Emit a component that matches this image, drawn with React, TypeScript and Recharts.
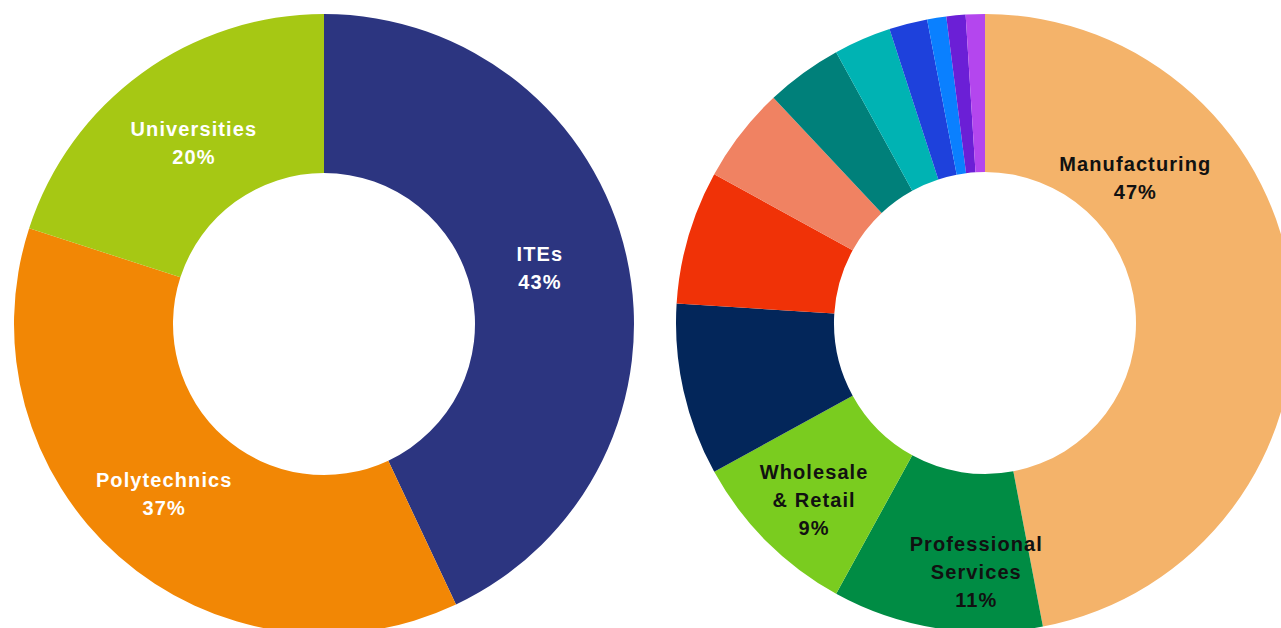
import React from 'react'
import { PieChart, Pie, Cell } from 'recharts'

// left donut: where workers were educated
const educationNames = ['ITEs', 'Polytechnics', 'Universities']
const educationShares = [43, 37, 20]
const educationColors = ['#2C3580', '#F28705', '#A6C814']

// right donut: industry split (only the three largest are labelled)
const industryNames = [
  'Manufacturing',
  'Professional Services',
  'Wholesale & Retail',
  'Segment 4',
  'Segment 5',
  'Segment 6',
  'Segment 7',
  'Segment 8',
  'Segment 9',
  'Segment 10',
  'Segment 11',
  'Segment 12',
]
const industryShares = [47, 11, 9, 9, 7, 5, 4, 3, 2, 1, 1, 1]
const industryColors = [
  '#F4B36A',
  '#008C44',
  '#7ACC1F',
  '#03265A',
  '#F03207',
  '#F08262',
  '#00807A',
  '#00B3B3',
  '#1E41DC',
  '#0A80FF',
  '#6B1FD6',
  '#B446EE',
]

const labelLines: Record<string, string[]> = {
  ITEs: ['ITEs'],
  Polytechnics: ['Polytechnics'],
  Universities: ['Universities'],
  Manufacturing: ['Manufacturing'],
  'Professional Services': ['Professional', 'Services'],
  'Wholesale & Retail': ['Wholesale', '& Retail'],
}

// label placement (degrees clockwise from 12 o'clock, radius px), like the hand-moved labels
const labelSpots: Record<string, { angle: number; r: number }> = {
  ITEs: { angle: 75.5, r: 223 },
  Polytechnics: { angle: 223.3, r: 233 },
  Universities: { angle: 324.3, r: 223 },
  Manufacturing: { angle: 46, r: 209 },
  'Professional Services': { angle: 182, r: 249 },
  'Wholesale & Retail': { angle: 224, r: 246 },
}

const educationData = educationNames.map((name, i) => ({ name, value: educationShares[i] }))
const industryData = industryNames.map((name, i) => ({ name, value: industryShares[i] }))

const RAD = Math.PI / 180
const LINE_H = 28

const makeLabel = (fill: string) => (props: any) => {
  const { cx, cy, midAngle, name, value } = props
  const lines = labelLines[name]
  if (!lines) return null
  let x: number
  let y: number
  const spot = labelSpots[name]
  if (spot) {
    x = cx + spot.r * Math.sin(spot.angle * RAD)
    y = cy - spot.r * Math.cos(spot.angle * RAD)
  } else {
    const r = 226
    x = cx + r * Math.cos(-midAngle * RAD)
    y = cy + r * Math.sin(-midAngle * RAD)
  }
  const all = [...lines, `${value}%`]
  const top = y - ((all.length - 1) * LINE_H) / 2
  return (
    <text
      x={x}
      y={top}
      fill={fill}
      textAnchor='middle'
      dominantBaseline='central'
      style={{
        fontFamily: 'Liberation Sans, Arial, sans-serif',
        fontWeight: 700,
        fontSize: 20,
        letterSpacing: 1.1,
      }}>
      {all.map((t, i) => (
        <tspan key={i} x={x} y={top + i * LINE_H}>
          {t}
        </tspan>
      ))}
    </text>
  )
}

export default function App() {
  return (
    <div style={{ position: 'fixed', left: 0, top: 0, width: 1281, height: 628, background: '#fff' }}>
      <PieChart width={1281} height={628} margin={{ top: 0, right: 0, bottom: 0, left: 0 }}>
        <Pie
          data={educationData}
          dataKey='value'
          nameKey='name'
          cx={324}
          cy={324}
          innerRadius={151}
          outerRadius={310}
          startAngle={90}
          endAngle={-270}
          stroke='none'
          labelLine={false}
          label={makeLabel('#FFFFFF')}
          isAnimationActive={false}>
          {educationData.map((d, i) => (
            <Cell key={d.name} fill={educationColors[i]} />
          ))}
        </Pie>
        <Pie
          data={industryData}
          dataKey='value'
          nameKey='name'
          cx={985}
          cy={323}
          innerRadius={151}
          outerRadius={309}
          startAngle={90}
          endAngle={-270}
          stroke='none'
          labelLine={false}
          label={makeLabel('#111111')}
          isAnimationActive={false}>
          {industryData.map((d, i) => (
            <Cell key={d.name} fill={industryColors[i]} />
          ))}
        </Pie>
      </PieChart>
    </div>
  )
}
